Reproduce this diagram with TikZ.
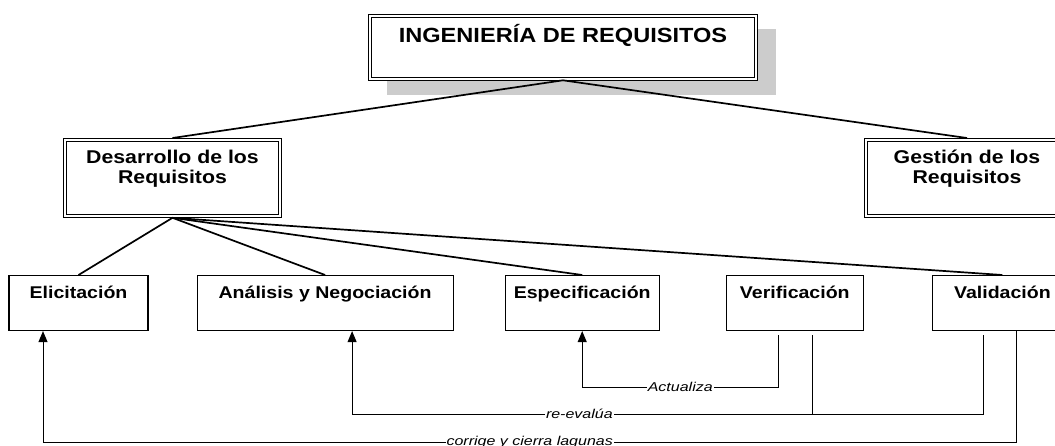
\documentclass[tikz,border=0pt]{standalone}
\usepackage{fontspec}
\newfontfamily\boxfont[FakeStretch=1.15]{Liberation Sans}
\newfontfamily\notefont[FakeStretch=1.25]{Liberation Sans}
\usepackage{tikz}
\usetikzlibrary{positioning}
\usetikzlibrary{calc}
\usetikzlibrary{shadows}
\usetikzlibrary{arrows.meta}

\begin{document}
\begin{tikzpicture}[x=1pt, y=-1pt,
    module/.style={draw, line width=1.1pt, inner xsep=0pt, inner ysep=0pt},
    doublemodule/.style={module, line width=.8pt, path picture={
        \draw[line width=.8pt] ([shift={(3pt,3pt)}]path picture bounding box.south west)
            rectangle ([shift={(-3pt,-3pt)}]path picture bounding box.north east);}},
    mainmodule/.style={doublemodule, text height=28.5pt, text depth=37.5pt, font=\boxfont\bfseries\fontsize{20.5}{24}\selectfont},
    submodule/.style={doublemodule, text height=25pt, text depth=54pt, font=\boxfont\bfseries\fontsize{18.5}{20}\selectfont},
    task/.style={module, text height=23pt, text depth=32pt, font=\boxfont\bfseries\fontsize{17}{20}\selectfont},
    tree/.style={line width=1.7pt},
    link/.style={line width=1pt},
    arrow/.style={link, -{Triangle[width=9pt,length=11pt]}},
    note/.style={fill=white, inner sep=1pt, font=\notefont\itshape\fontsize{12.8}{14}\selectfont},
]
\useasboundingbox (0,0) rectangle (1055,445);

\node[mainmodule, anchor=north, minimum width=389pt, fill=white, drop shadow={shadow xshift=18pt, shadow yshift=-15pt, fill=black!20, opacity=1}] (ingreq) at (563,13.5) {INGENIERÍA DE REQUISITOS};

\node[submodule, anchor=north, minimum width=218pt] (desreq) at (172.5,138) {\begin{tabular}[t]{@{}c@{}}Desarrollo de los\\Requisitos\end{tabular}};
\node[submodule, anchor=north, minimum width=205pt] (gesreq) at (967,138) {\begin{tabular}[t]{@{}c@{}}Gestión de los\\Requisitos\end{tabular}};

\node[task, anchor=north, minimum width=139pt] (elic) at (78.5,275) {Elicitación};
\node[task, right=48pt of elic, minimum width=256pt] (anal) {Análisis y Negociación};
\node[task, right=51pt of anal, minimum width=154pt] (espec) {Especificación};
\node[task, right=66pt of espec, minimum width=137pt] (verif) {Verificación};
\node[task, right=68pt of verif, minimum width=140pt] (valid) {Validación};

\draw[tree] (ingreq.south) -- (desreq.north);
\draw[tree] (ingreq.south) -- (gesreq.north);
\foreach \n in {elic, anal, espec, valid}
    \draw[tree] (desreq.south) -- (\n.north);

% feedback loops
\coordinate (verA) at ($(verif.south)+(-16.5,4)$);
\coordinate (verB) at ($(verif.south)+(17.5,4)$);
\coordinate (valA) at ($(valid.south)+(-19,4)$);
\coordinate (valB) at ($(valid.south)+(14,0)$);

\draw[arrow] (verA) -- ++(0,52) -| node[note, pos=.25] {Actualiza} (espec.south);
\draw[arrow] (valA) -- ++(0,79) coordinate (reev) -| node[note, pos=.32] {re-evalúa} ($(anal.south)+(27,0)$);
\draw[link] (verB) -- (verB |- reev);
\draw[arrow] (valB) -- ++(0,111) -| node[note, pos=.25] {corrige y cierra lagunas} ($(elic.south)+(-35.5,0)$);

\end{tikzpicture}
\end{document}
